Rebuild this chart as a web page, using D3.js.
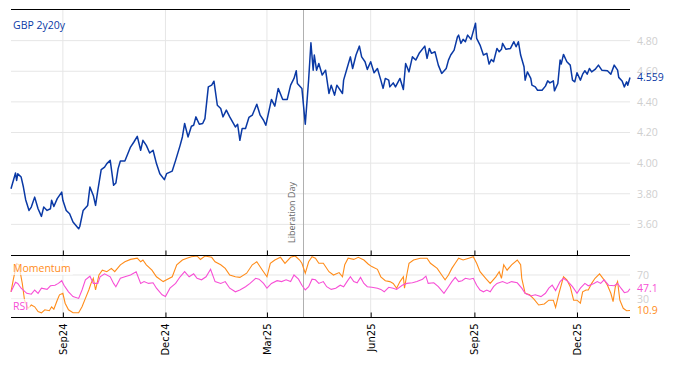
<!DOCTYPE html>
<html lang="en">
<head>
<meta charset="UTF-8">
<title>GBP 2y20y</title>
<script src="https://d3js.org/d3.v7.min.js"></script>
<style>
    body { margin: 0; background: #fff; }
    svg { display: block; }
</style>
</head>
<body>
<svg id="chart"></svg>
<script>
// --- data ---
const priceDates = ["2024-07-17","2024-07-21","2024-07-22","2024-07-23","2024-07-26","2024-07-28","2024-07-30","2024-08-02","2024-08-04","2024-08-07","2024-08-10","2024-08-13","2024-08-15","2024-08-18","2024-08-21","2024-08-22","2024-08-24","2024-08-27","2024-08-31","2024-09-01","2024-09-04","2024-09-07","2024-09-10","2024-09-15","2024-09-16","2024-09-19","2024-09-23","2024-09-25","2024-09-28","2024-09-30","2024-10-02","2024-10-05","2024-10-08","2024-10-10","2024-10-13","2024-10-16","2024-10-18","2024-10-20","2024-10-22","2024-10-26","2024-10-31","2024-11-03","2024-11-06","2024-11-09","2024-11-11","2024-11-14","2024-11-17","2024-11-20","2024-11-23","2024-11-26","2024-11-30","2024-12-02","2024-12-07","2024-12-10","2024-12-14","2024-12-16","2024-12-18","2024-12-21","2024-12-24","2024-12-26","2024-12-28","2024-12-31","2025-01-03","2025-01-05","2025-01-08","2025-01-11","2025-01-13","2025-01-16","2025-01-19","2025-01-21","2025-01-24","2025-01-27","2025-02-01","2025-02-03","2025-02-05","2025-02-07","2025-02-10","2025-02-13","2025-02-16","2025-02-20","2025-02-23","2025-02-26","2025-02-28","2025-03-05","2025-03-08","2025-03-11","2025-03-15","2025-03-19","2025-03-22","2025-03-25","2025-03-27","2025-03-28","2025-04-01","2025-04-04","2025-04-07","2025-04-09","2025-04-11","2025-04-12","2025-04-14","2025-04-16","2025-04-19","2025-04-22","2025-04-25","2025-04-27","2025-04-30","2025-05-02","2025-05-07","2025-05-08","2025-05-11","2025-05-14","2025-05-16","2025-05-19","2025-05-22","2025-05-24","2025-05-27","2025-05-29","2025-06-01","2025-06-04","2025-06-07","2025-06-10","2025-06-12","2025-06-14","2025-06-17","2025-06-18","2025-06-21","2025-06-23","2025-06-27","2025-06-30","2025-07-02","2025-07-05","2025-07-08","2025-07-11","2025-07-14","2025-07-19","2025-07-21","2025-07-23","2025-07-25","2025-07-28","2025-07-31","2025-08-03","2025-08-07","2025-08-09","2025-08-11","2025-08-14","2025-08-17","2025-08-18","2025-08-20","2025-08-22","2025-08-24","2025-08-26","2025-08-29","2025-09-02","2025-09-03","2025-09-06","2025-09-09","2025-09-12","2025-09-14","2025-09-16","2025-09-18","2025-09-21","2025-09-23","2025-09-25","2025-09-26","2025-09-29","2025-10-03","2025-10-06","2025-10-08","2025-10-10","2025-10-12","2025-10-15","2025-10-16","2025-10-18","2025-10-21","2025-10-22","2025-10-25","2025-10-27","2025-10-31","2025-11-03","2025-11-05","2025-11-07","2025-11-10","2025-11-11","2025-11-14","2025-11-16","2025-11-17","2025-11-19","2025-11-22","2025-11-25","2025-11-27","2025-11-29","2025-12-01","2025-12-04","2025-12-06","2025-12-08","2025-12-10","2025-12-12","2025-12-14","2025-12-17","2025-12-20","2025-12-23","2025-12-28","2025-12-31","2026-01-03","2026-01-06","2026-01-07","2026-01-10","2026-01-12","2026-01-14","2026-01-15","2026-01-17"];
const priceValues = [3.833,3.935,3.887,3.93,3.909,3.844,3.761,3.691,3.713,3.778,3.702,3.652,3.713,3.691,3.702,3.757,3.717,3.768,3.811,3.757,3.691,3.669,3.615,3.571,3.586,3.691,3.724,3.844,3.789,3.724,3.822,3.957,3.974,3.997,4.018,3.855,3.870,3.964,4.014,4.014,4.105,4.138,4.175,4.084,4.149,4.116,4.066,4.084,3.997,3.931,3.892,3.931,3.948,4.018,4.116,4.171,4.259,4.171,4.241,4.247,4.302,4.254,4.259,4.291,4.498,4.509,4.535,4.378,4.357,4.302,4.346,4.302,4.236,4.254,4.149,4.226,4.226,4.298,4.313,4.385,4.313,4.280,4.247,4.416,4.372,4.488,4.416,4.416,4.509,4.553,4.603,4.520,4.488,4.254,4.546,4.786,4.607,4.706,4.607,4.651,4.575,4.607,4.455,4.509,4.444,4.509,4.455,4.542,4.618,4.694,4.618,4.706,4.764,4.694,4.662,4.612,4.662,4.590,4.618,4.542,4.488,4.553,4.542,4.498,4.524,4.498,4.553,4.481,4.651,4.596,4.694,4.673,4.717,4.764,4.684,4.749,4.717,4.727,4.640,4.586,4.618,4.673,4.706,4.738,4.825,4.836,4.782,4.808,4.793,4.836,4.808,4.913,4.815,4.771,4.706,4.717,4.647,4.677,4.662,4.749,4.727,4.743,4.782,4.743,4.749,4.793,4.760,4.793,4.706,4.629,4.542,4.596,4.553,4.509,4.498,4.476,4.476,4.503,4.537,4.524,4.537,4.472,4.520,4.673,4.647,4.710,4.662,4.640,4.542,4.531,4.590,4.542,4.581,4.603,4.581,4.618,4.596,4.612,4.640,4.607,4.603,4.581,4.640,4.607,4.560,4.537,4.498,4.531,4.509,4.559];

const momentumDates = ["2024-07-17","2024-07-19","2024-07-22","2024-07-24","2024-07-27","2024-07-29","2024-08-01","2024-08-04","2024-08-07","2024-08-10","2024-08-13","2024-08-16","2024-08-20","2024-08-22","2024-08-24","2024-08-27","2024-08-29","2024-09-01","2024-09-03","2024-09-06","2024-09-10","2024-09-15","2024-09-18","2024-09-21","2024-09-24","2024-09-26","2024-09-28","2024-09-30","2024-10-03","2024-10-06","2024-10-10","2024-10-14","2024-10-17","2024-10-22","2024-10-26","2024-10-31","2024-11-06","2024-11-09","2024-11-11","2024-11-14","2024-11-19","2024-11-23","2024-11-29","2024-12-02","2024-12-07","2024-12-11","2024-12-16","2024-12-20","2024-12-24","2024-12-29","2025-01-01","2025-01-05","2025-01-11","2025-01-14","2025-01-19","2025-01-23","2025-01-27","2025-02-01","2025-02-05","2025-02-11","2025-02-16","2025-02-20","2025-02-25","2025-03-01","2025-03-04","2025-03-08","2025-03-13","2025-03-17","2025-03-22","2025-03-26","2025-03-30","2025-04-01","2025-04-04","2025-04-07","2025-04-10","2025-04-13","2025-04-16","2025-04-20","2025-04-25","2025-04-29","2025-05-04","2025-05-07","2025-05-09","2025-05-12","2025-05-17","2025-05-21","2025-05-26","2025-05-30","2025-06-02","2025-06-07","2025-06-10","2025-06-14","2025-06-18","2025-06-21","2025-06-24","2025-06-27","2025-06-30","2025-07-01","2025-07-03","2025-07-05","2025-07-09","2025-07-15","2025-07-21","2025-07-24","2025-07-30","2025-08-03","2025-08-06","2025-08-09","2025-08-12","2025-08-15","2025-08-18","2025-08-22","2025-08-27","2025-08-31","2025-09-03","2025-09-06","2025-09-11","2025-09-15","2025-09-20","2025-09-23","2025-09-25","2025-09-27","2025-09-30","2025-10-04","2025-10-09","2025-10-12","2025-10-13","2025-10-16","2025-10-20","2025-10-24","2025-10-28","2025-11-02","2025-11-06","2025-11-10","2025-11-12","2025-11-15","2025-11-19","2025-11-22","2025-11-25","2025-11-28","2025-12-01","2025-12-04","2025-12-06","2025-12-09","2025-12-11","2025-12-14","2025-12-17","2025-12-21","2025-12-25","2025-12-28","2025-12-31","2026-01-02","2026-01-04","2026-01-06","2026-01-08","2026-01-11","2026-01-14","2026-01-17"];
const momentumValues = [42,62,89,87,56,28,14.5,20,17,9,7,12,10.5,17,13,28,37,39.5,23,12,7,7,17,31,45,56,64.5,45,70,78,75.5,81,75.5,87,92,96,98,92,95,87,78,67,59,62,67,87,95,98,100.5,101.7,96,101.7,99.5,92,87,81,70,67,66,73,87,92,78,67,89.5,95,99.5,89.5,99.5,101.7,95,89.5,73,92,100.5,98,89.5,89.5,75.5,70,74,67,87,98,96,99.5,95,88,84,79.5,67,60.5,59,56,48,59,67,48,70,89.5,95,98,98,89.5,81,70,62,70,81,89.5,98,95,98,100.5,89.5,75.5,64.5,56,67,75.5,64.5,87,78,87,95,87,64.5,39.5,37,29.5,20,21.7,28,28,16,39.5,67,62,50.5,28,28,23,42,45,45,56,64.5,72,62,53,39.5,25.5,50.5,59,28,14.5,10.5,10.9];

const rsiDates = ["2024-07-17","2024-07-21","2024-07-23","2024-07-26","2024-07-31","2024-08-04","2024-08-07","2024-08-10","2024-08-13","2024-08-18","2024-08-21","2024-08-25","2024-08-28","2024-08-31","2024-09-02","2024-09-06","2024-09-10","2024-09-15","2024-09-18","2024-09-21","2024-09-25","2024-09-28","2024-10-02","2024-10-04","2024-10-08","2024-10-13","2024-10-16","2024-10-18","2024-10-22","2024-10-26","2024-10-31","2024-11-05","2024-11-09","2024-11-12","2024-11-16","2024-11-20","2024-11-23","2024-11-28","2024-12-01","2024-12-05","2024-12-10","2024-12-14","2024-12-18","2024-12-22","2024-12-26","2024-12-29","2025-01-02","2025-01-06","2025-01-10","2025-01-14","2025-01-19","2025-01-23","2025-01-27","2025-02-01","2025-02-05","2025-02-10","2025-02-14","2025-02-19","2025-02-22","2025-02-26","2025-03-01","2025-03-05","2025-03-10","2025-03-14","2025-03-18","2025-03-22","2025-03-25","2025-03-29","2025-04-01","2025-04-04","2025-04-07","2025-04-10","2025-04-13","2025-04-16","2025-04-20","2025-04-23","2025-04-27","2025-05-01","2025-05-05","2025-05-08","2025-05-11","2025-05-14","2025-05-17","2025-05-20","2025-05-23","2025-05-26","2025-05-29","2025-06-02","2025-06-07","2025-06-10","2025-06-13","2025-06-17","2025-06-21","2025-06-24","2025-06-29","2025-07-03","2025-07-08","2025-07-12","2025-07-17","2025-07-20","2025-07-22","2025-07-27","2025-07-31","2025-08-05","2025-08-09","2025-08-12","2025-08-15","2025-08-18","2025-08-21","2025-08-24","2025-08-28","2025-08-31","2025-09-03","2025-09-06","2025-09-09","2025-09-12","2025-09-15","2025-09-18","2025-09-21","2025-09-26","2025-09-30","2025-10-04","2025-10-09","2025-10-13","2025-10-16","2025-10-21","2025-10-25","2025-10-30","2025-11-03","2025-11-06","2025-11-09","2025-11-12","2025-11-16","2025-11-19","2025-11-23","2025-11-27","2025-12-01","2025-12-04","2025-12-08","2025-12-11","2025-12-16","2025-12-19","2025-12-22","2025-12-25","2025-12-29","2026-01-03","2026-01-06","2026-01-09","2026-01-12","2026-01-15","2026-01-17"];
const rsiValues = [42,58,56,48,39.5,38,45,39.5,48,46,52,53,56,60.5,53,42,34,31,45,62,68,56,56,67,72,67,56,50.5,64.5,67,70,75.5,56,59,56,57,48,37,34,48,56,67,75.5,67,72,64.5,62,67,79.5,59,56,59,48,42,45,50.5,56,64.5,63,56,48,56,60.5,59,62,59,70,63,53,45,50.5,63,62,56,59,50.5,46,48,53,50.5,59,67,59,57,66,56,50.5,49.5,48,46,42,49.5,48,46,53,56,57,59,63,68,56,57,50.5,39.5,50.5,59,66,59,60.5,64.5,63,64.5,53,45,42,45,42,50.5,56,59,56,59,57,48,39.5,35,37,34,39.5,48,53,44,59,64.5,59,50.5,39.5,48,56,52,56,59,56,62,53,52,56,48,40.5,42,47.1];

const priceTicks = [3.6, 3.8, 4.0, 4.2, 4.4, 4.6, 4.8];
const oscTicks = [30, 70];
const monthTicks = ["2024-09-01","2024-12-01","2025-03-01","2025-06-01","2025-09-01","2025-12-01"];
const eventDate = "2025-04-02";
const eventLabel = "Liberation Day";
const seriesName = "GBP 2y20y";

// --- layout ---
const width = 674, height = 366;
const left = 11, right = 630;
const mainTop = 10, mainBottom = 255;
const oscTop = 255, oscBottom = 317;
const blue = "#0a39a5", orange = "#ff8c1a", pink = "#f74fd6";
const gridColor = "#e6e6e6", labelGrey = "#cfcfcf";

const parse = d3.timeParse("%Y-%m-%d");
const price = priceDates.map((d, i) => ({ date: parse(d), v: priceValues[i] }));
const momentum = momentumDates.map((d, i) => ({ date: parse(d), v: momentumValues[i] }));
const rsi = rsiDates.map((d, i) => ({ date: parse(d), v: rsiValues[i] }));

const svg = d3.select("#chart").attr("width", width).attr("height", height);

const x = d3.scaleTime()
    .domain([price[0].date, price[price.length - 1].date])
    .range([left, right]);
const y = d3.scaleLinear().domain([3.4, 5.0]).range([mainBottom, mainTop]);
const yOsc = d3.scaleLinear().domain([0, 103.33]).range([oscBottom, oscTop]);

// vertical grid in both panels
const ticks = monthTicks.map(parse);
svg.append("g").selectAll("line").data(ticks).join("line")
    .attr("x1", d => x(d)).attr("x2", d => x(d))
    .attr("y1", mainTop).attr("y2", oscBottom)
    .attr("stroke", gridColor).attr("stroke-width", 1);

// horizontal grid, main
svg.append("g").selectAll("line").data(priceTicks).join("line")
    .attr("x1", left).attr("x2", right)
    .attr("y1", d => y(d)).attr("y2", d => y(d))
    .attr("stroke", gridColor);

// horizontal grid, oscillators
svg.append("g").selectAll("line").data(oscTicks).join("line")
    .attr("x1", left).attr("x2", right)
    .attr("y1", d => yOsc(d)).attr("y2", d => yOsc(d))
    .attr("stroke", gridColor);

// event line
const ex = Math.round(x(parse(eventDate))) + 0.5;
svg.append("line")
    .attr("x1", ex).attr("x2", ex).attr("y1", mainTop).attr("y2", oscBottom)
    .attr("stroke", "#b0b0b0").attr("stroke-width", 1);
svg.append("text")
    .attr("transform", `translate(${ex - 9},${mainBottom - 12}) rotate(-90)`)
    .attr("font-family", "Open Sans, sans-serif")
    .attr("font-size", 9)
    .attr("fill", "#666")
    .text(eventLabel);

// right axes
const yAxis = d3.axisRight(y).tickValues(priceTicks).tickSize(0).tickPadding(7).tickFormat(d3.format(".2f"));
const gy = svg.append("g").attr("transform", `translate(${right},0)`).call(yAxis);
gy.select(".domain").remove();
gy.selectAll("text").attr("fill", labelGrey).attr("font-family", "Open Sans, sans-serif").attr("font-size", 10.5);

const oscAxis = d3.axisRight(yOsc).tickValues(oscTicks).tickSize(0).tickPadding(7);
const go = svg.append("g").attr("transform", `translate(${right},0)`).call(oscAxis);
go.select(".domain").remove();
go.selectAll("text").attr("fill", labelGrey).attr("font-family", "Open Sans, sans-serif").attr("font-size", 10.5);

// lines
const priceLine = d3.line().x(d => x(d.date)).y(d => y(d.v));
const oscLine = d3.line().x(d => x(d.date)).y(d => yOsc(d.v));

svg.append("path").datum(momentum)
    .attr("d", oscLine).attr("fill", "none").attr("stroke", orange).attr("stroke-width", 1.1);
svg.append("path").datum(rsi)
    .attr("d", oscLine).attr("fill", "none").attr("stroke", pink).attr("stroke-width", 1.1);
svg.append("path").datum(price)
    .attr("d", priceLine).attr("fill", "none").attr("stroke", blue).attr("stroke-width", 1.5)
    .attr("stroke-linejoin", "round");

// panel frame lines
svg.append("line").attr("x1", left).attr("x2", right).attr("y1", mainTop - 0.5).attr("y2", mainTop - 0.5).attr("stroke", "#000");
svg.append("line").attr("x1", left).attr("x2", right).attr("y1", mainBottom + 0.5).attr("y2", mainBottom + 0.5).attr("stroke", "#000");
svg.append("line").attr("x1", left).attr("x2", right).attr("y1", oscBottom + 0.5).attr("y2", oscBottom + 0.5).attr("stroke", "#000");

// x ticks (inside, on the bottom of each panel)
const xTicksMain = d3.axisBottom(x).tickValues(ticks).tickSize(-5).tickFormat("");
const gxm = svg.append("g").attr("transform", `translate(0,${mainBottom + 0.5})`).call(xTicksMain);
gxm.select(".domain").remove();
const xAxis = d3.axisBottom(x).tickValues(ticks).tickSize(-5).tickPadding(6).tickFormat(d3.timeFormat("%b%y"));
const gx = svg.append("g").attr("transform", `translate(0,${oscBottom + 0.5})`).call(xAxis);
gx.select(".domain").remove();
gx.selectAll("text")
    .attr("font-family", "DejaVu Sans, sans-serif")
    .attr("font-size", 10)
    .attr("fill", "#000")
    .attr("text-anchor", "end")
    .attr("transform", "rotate(-90)")
    .attr("x", -6).attr("y", 0).attr("dy", "0.35em");

// labels
svg.append("text").attr("x", 13).attr("y", 29)
    .attr("font-family", "Open Sans, sans-serif").attr("font-size", 10.5).attr("fill", blue).text(seriesName);

function boxedLabel(txt, yy, color) {
    const g = svg.append("g");
    const t = g.append("text").attr("x", 13).attr("y", yy)
        .attr("font-family", "Open Sans, sans-serif").attr("font-size", 10.5).attr("fill", color).text(txt);
    const b = t.node().getBBox();
    g.insert("rect", "text").attr("x", b.x - 2).attr("y", b.y).attr("width", b.width + 4).attr("height", b.height)
        .attr("fill", "#fff").attr("opacity", 0.7);
}
boxedLabel("Momentum", 272, orange);
boxedLabel("RSI", 310, pink);

// last value labels
const lastP = price[price.length - 1], lastM = momentum[momentum.length - 1], lastR = rsi[rsi.length - 1];
const endLabels = [
    { y: y(lastP.v), t: d3.format(".3f")(lastP.v), c: blue },
    { y: yOsc(lastR.v), t: d3.format(".1f")(lastR.v), c: pink },
    { y: yOsc(lastM.v), t: d3.format(".1f")(lastM.v), c: orange }
];
svg.append("g").selectAll("text").data(endLabels).join("text")
    .attr("x", right + 7).attr("y", d => d.y).attr("dy", "0.35em")
    .attr("font-family", "Open Sans, sans-serif").attr("font-size", 10.5)
    .attr("fill", d => d.c).text(d => d.t);
</script>
</body>
</html>
